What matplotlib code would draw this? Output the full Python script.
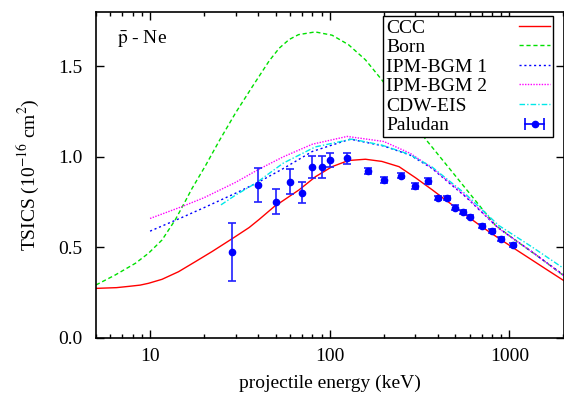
import matplotlib
matplotlib.use("Agg")
import matplotlib.pyplot as plt
from matplotlib.lines import Line2D
from matplotlib.legend_handler import HandlerLine2D, HandlerTuple
from matplotlib.ticker import LogLocator, NullFormatter, FixedLocator, FormatStrFormatter

plt.rcParams['font.family'] = ['Liberation Serif', 'DejaVu Serif']
plt.rcParams['mathtext.fontset'] = 'stix'

# CCC
ccc_e = [5, 6.5, 7.6, 8.8, 9.8, 11.65, 14.4, 17.9, 22.1, 28.6, 35.6, 40.5, 49, 67.5, 83.4, 103, 127,
         158, 195, 243, 300, 372, 460, 569, 700, 871, 1080, 1334, 1600, 2000]
ccc_y = [0.274, 0.278, 0.285, 0.292, 0.302, 0.324, 0.366, 0.422, 0.477, 0.548, 0.61, 0.655, 0.725,
         0.818, 0.891, 0.946, 0.98, 0.987, 0.975, 0.946, 0.885, 0.818, 0.749, 0.68, 0.615, 0.551,
         0.49, 0.431, 0.38, 0.318]

# Born
born_e = [5, 6.4, 8.3, 9.8, 11.65, 13.8, 15.7, 17.1, 20.3, 24.3, 30, 37.2, 46, 52.3, 59.4, 67, 83,
          103, 127, 158, 195, 321, 518, 833, 1075, 1450, 2000]
born_y = [0.293, 0.348, 0.413, 0.468, 0.541, 0.652, 0.755, 0.825, 0.95, 1.09, 1.245, 1.39, 1.53, 1.60,
          1.648, 1.675, 1.69, 1.672, 1.62, 1.536, 1.425, 1.131, 0.877, 0.624, 0.541, 0.449, 0.345]

# IPM-BGM 1
bgm1_e = [10, 15, 20, 30, 40, 55, 80, 130, 200, 280, 370, 570, 870, 1330, 2000]
bgm1_y = [0.59, 0.665, 0.72, 0.80, 0.86, 0.935, 1.03, 1.098, 1.06, 1.01, 0.937, 0.78, 0.606, 0.477, 0.348]

# IPM-BGM 2
bgm2_e = [10, 15, 20, 30, 40, 55, 80, 125, 200, 280, 370, 570, 870, 1330, 2000]
bgm2_y = [0.66, 0.725, 0.775, 0.86, 0.93, 1.00, 1.07, 1.113, 1.085, 1.02, 0.94, 0.785, 0.606, 0.477, 0.345]

# CDW-EIS
cdw_e = [24.8, 30, 38.8, 55, 83, 133, 195, 276, 370, 570, 870, 1330, 2000]
cdw_y = [0.735, 0.79, 0.855, 0.965, 1.055, 1.098, 1.065, 1.015, 0.945, 0.795, 0.622, 0.504, 0.385]

# Paludan experiment
pal_e = [28.6, 40, 50, 60, 70, 80, 90, 100, 125, 163, 200, 250, 300, 350, 400, 450, 500, 550, 600,
         700, 800, 900, 1050]
pal_y = [0.473, 0.845, 0.753, 0.864, 0.803, 0.945, 0.945, 0.983, 0.993, 0.922, 0.873, 0.897, 0.840,
         0.867, 0.772, 0.772, 0.720, 0.694, 0.670, 0.619, 0.591, 0.545, 0.514]
pal_err = [0.16, 0.095, 0.07, 0.07, 0.06, 0.06, 0.06, 0.04, 0.03, 0.015, 0.015, 0.015, 0.015,
           0.015, 0.012, 0.012, 0.012, 0.012, 0.01, 0.01, 0.01, 0.01, 0.01]

fig = plt.figure(figsize=(5.64, 3.99), dpi=100)
ax = fig.add_axes([96 / 564, 61 / 399, 467.5 / 564, 326 / 399])

l1, = ax.plot(ccc_e, ccc_y, color='#ff0000', lw=1.0)
l2, = ax.plot(born_e, born_y, color='#00e000', lw=1.0, ls=(0, (3, 2)))
l3, = ax.plot(bgm1_e, bgm1_y, color='#0000ff', lw=1.0, ls=(0, (1.5, 2)))
l4, = ax.plot(bgm2_e, bgm2_y, color='#ff00ff', lw=1.0, ls=(0, (1, 1)))
l5, = ax.plot(cdw_e, cdw_y, color='#00e8e8', lw=1.0, ls=(0, (4, 1.5, 1, 1.5)))
ax.errorbar(pal_e, pal_y, yerr=pal_err, fmt='o', color='#0000ff', ms=4.5, ecolor='#2020ff',
            elinewidth=1.2, capsize=3, capthick=1.2)

ax.set_xscale('log')
ax.set_xlim(5, 2000)
ax.set_ylim(0, 1.8)
ax.xaxis.set_major_locator(FixedLocator([10, 100, 1000]))
ax.xaxis.set_major_formatter(FormatStrFormatter('%d'))
ax.xaxis.set_minor_locator(LogLocator(base=10, subs=range(2, 10)))
ax.xaxis.set_minor_formatter(NullFormatter())
ax.set_yticks([0.0, 0.5, 1.0, 1.5])
ax.yaxis.set_major_formatter(FormatStrFormatter('%.1f'))
ax.tick_params(which='both', direction='in', top=True, right=True, labelsize=14)
ax.tick_params(which='major', length=6, width=1)
ax.tick_params(which='minor', length=3, width=1)
ax.tick_params(axis='x', pad=7)
ax.tick_params(axis='y', pad=10)
for s in ax.spines.values():
    s.set_linewidth(1.2)

ax.set_xlabel('projectile energy (keV)', fontsize=14, labelpad=7)
ax.set_ylabel('TSICS (10$^{-16}$ cm$^{2}$)', fontsize=14, labelpad=12)
ax.text(0.045, 0.95, r'$\bar{\mathrm{p}}$ - Ne', transform=ax.transAxes, fontsize=14,
        ha='left', va='top')

# legend handle for Paludan: horizontal error bar with a dot
caps = Line2D([], [], color='#0000ff', lw=1.2, marker='|', ms=8, mew=1.2)
dot = Line2D([], [], color='#0000ff', ls='none', marker='o', ms=4.5)
handles = [l1, l2, l3, l4, l5, (caps, dot)]
labels = ['CCC', 'Born', 'IPM-BGM 1', 'IPM-BGM 2', 'CDW-EIS', 'Paludan']
hmap = {caps: HandlerLine2D(numpoints=2), dot: HandlerLine2D(numpoints=1),
        (caps, dot): HandlerTuple(ndivide=1)}

leg = ax.legend(handles, labels, handler_map=hmap, loc='upper right', bbox_to_anchor=(0.9775, 0.9877),
                markerfirst=False, fontsize=14, frameon=True, fancybox=False, edgecolor='black',
                framealpha=1, borderpad=0.15, labelspacing=0.1, handlelength=1.6,
                handletextpad=1.0, borderaxespad=0)
leg.get_frame().set_linewidth(1.0)
# left-align the labels and push the keys to the right edge
for col in leg._legend_handle_box.get_children():
    for row in col.get_children():
        row.mode = 'expand'
        row.width = 164

fig.savefig('out.png', dpi=100)
